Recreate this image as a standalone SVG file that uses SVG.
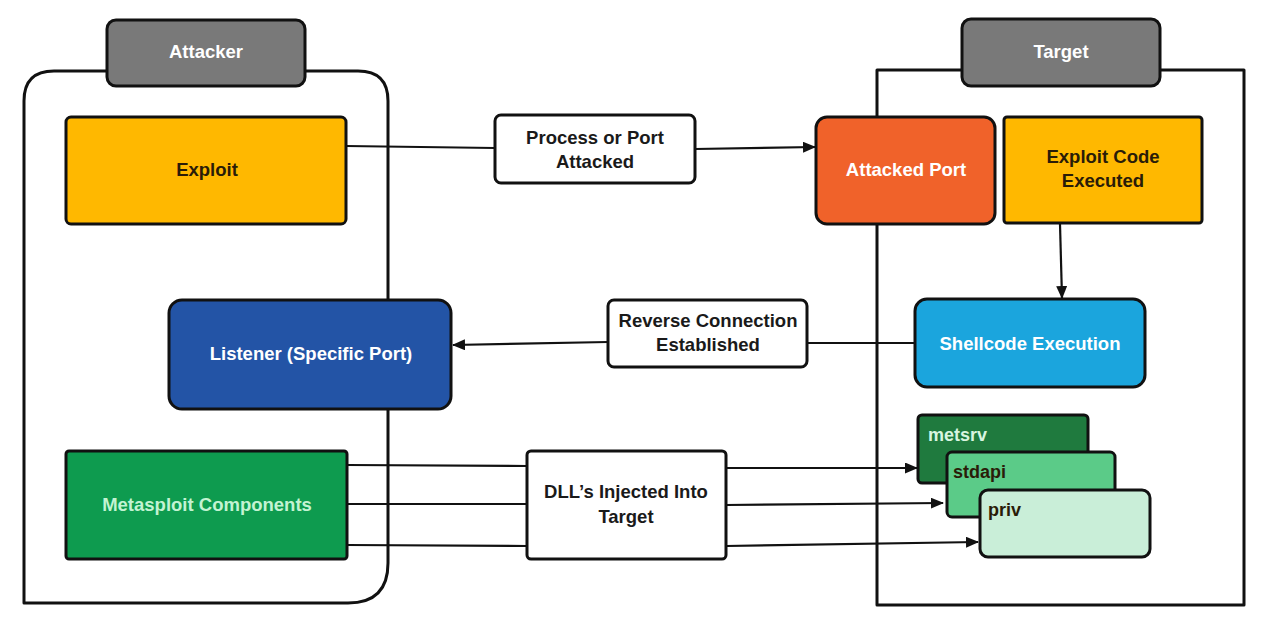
<svg xmlns="http://www.w3.org/2000/svg" width="1274" height="620" viewBox="0 0 1274 620">
  <defs>
    <style>
      .box { stroke: #111; stroke-width: 3; stroke-linejoin: round; }
      .cont { fill: none; stroke: #111; stroke-width: 3; stroke-linejoin: round; }
      .tab { fill: #797979; stroke: #111; stroke-width: 3; }
      .lbl { fill: #ffffff; stroke: #111; stroke-width: 3; }
      .t { font-family: "Liberation Sans", Arial, sans-serif; font-weight: bold; font-size: 18.5px; text-anchor: middle; }
      .tl { font-family: "Liberation Sans", Arial, sans-serif; font-weight: bold; font-size: 18px; }
      .w { fill: #ffffff; }
      .d { fill: #2a1c08; }
      .k { fill: #1a1a1a; }
      .conn { fill: none; stroke: #111; stroke-width: 2.2; }
    </style>
    <marker id="arr" viewBox="0 0 13 11" refX="12" refY="5.5" markerWidth="13" markerHeight="11" markerUnits="userSpaceOnUse" orient="auto">
      <path d="M0,0 L13,5.5 L0,11 Z" fill="#111"/>
    </marker>
  </defs>
  <rect width="1274" height="620" fill="#ffffff"/>

  <g id="attacker-container">
    <path class="cont" d="M24 603 L24 101 Q24 71 54 71 L358 71 Q388 71 388 101 L388 563 Q388 603 348 603 Z"/>
  </g>
  <g id="target-container">
    <rect class="cont" x="877" y="70" width="367" height="535"/>
  </g>

  <g id="connectors">
    <path class="conn" d="M346 146 L495 148"/>
    <path class="conn" d="M695 149 L815 147" marker-end="url(#arr)"/>
    <path class="conn" d="M1060 224 L1062 298" marker-end="url(#arr)"/>
    <path class="conn" d="M914 343 L807 343"/>
    <path class="conn" d="M608 342 L453 345" marker-end="url(#arr)"/>
    <path class="conn" d="M347 465 L527 466"/>
    <path class="conn" d="M726 468 L917 468" marker-end="url(#arr)"/>
    <path class="conn" d="M347 504 L527 504"/>
    <path class="conn" d="M726 505 L943 503" marker-end="url(#arr)"/>
    <path class="conn" d="M347 545 L527 546"/>
    <path class="conn" d="M726 546 L978 542" marker-end="url(#arr)"/>
  </g>

  <g id="attacker-tab">
    <rect class="tab" x="107" y="20" width="198" height="66" rx="9"/>
    <text class="t w" x="206" y="58">Attacker</text>
  </g>
  <g id="target-tab">
    <rect class="tab" x="962" y="19" width="198" height="67" rx="9"/>
    <text class="t w" x="1061" y="58">Target</text>
  </g>

  <g id="exploit">
    <rect class="box" x="66" y="117" width="280" height="107" rx="5" fill="#FFB800"/>
    <text class="t d" x="207" y="176">Exploit</text>
  </g>
  <g id="listener">
    <rect class="box" x="169" y="300" width="282" height="109" rx="13" fill="#2354A6"/>
    <text class="t w" x="311" y="360">Listener (Specific Port)</text>
  </g>
  <g id="metasploit-components">
    <rect class="box" x="66" y="451" width="281" height="108" rx="3" fill="#0E9B4F"/>
    <text class="t" x="207" y="511" fill="#C3F3D2">Metasploit Components</text>
  </g>

  <g id="label-process">
    <rect class="lbl" x="495" y="115" width="200" height="68" rx="6"/>
    <text class="t k" x="595" y="144">Process or Port</text>
    <text class="t k" x="595" y="168">Attacked</text>
  </g>
  <g id="label-reverse">
    <rect class="lbl" x="608" y="300" width="199" height="67" rx="6"/>
    <text class="t k" x="708" y="327">Reverse Connection</text>
    <text class="t k" x="708" y="351">Established</text>
  </g>
  <g id="label-dll">
    <rect class="lbl" x="527" y="451" width="199" height="108" rx="4"/>
    <text class="t k" x="626" y="498">DLL’s Injected Into</text>
    <text class="t k" x="626" y="523">Target</text>
  </g>

  <g id="attacked-port">
    <rect class="box" x="816" y="117" width="179" height="107" rx="11" fill="#F0622A"/>
    <text class="t w" x="906" y="176">Attacked Port</text>
  </g>
  <g id="exploit-code-executed">
    <rect class="box" x="1004" y="117" width="198" height="106" rx="3" fill="#FFB800"/>
    <text class="t d" x="1103" y="163">Exploit Code</text>
    <text class="t d" x="1103" y="187">Executed</text>
  </g>
  <g id="shellcode-execution">
    <rect class="box" x="915" y="299" width="230" height="88" rx="12" fill="#1BA5DD"/>
    <text class="t w" x="1030" y="350">Shellcode Execution</text>
  </g>
  <g id="metsrv">
    <rect class="box" x="918" y="415" width="170" height="68" rx="4" fill="#1F7A3E"/>
    <text class="tl" x="928" y="441" fill="#D8F5E0">metsrv</text>
  </g>
  <g id="stdapi">
    <rect class="box" x="947" y="452" width="168" height="65" rx="5" fill="#5BCB88"/>
    <text class="tl d" x="953" y="478">stdapi</text>
  </g>
  <g id="priv">
    <rect class="box" x="980" y="490" width="170" height="67" rx="8" fill="#C9EED8"/>
    <text class="tl d" x="988" y="516">priv</text>
  </g>
</svg>
